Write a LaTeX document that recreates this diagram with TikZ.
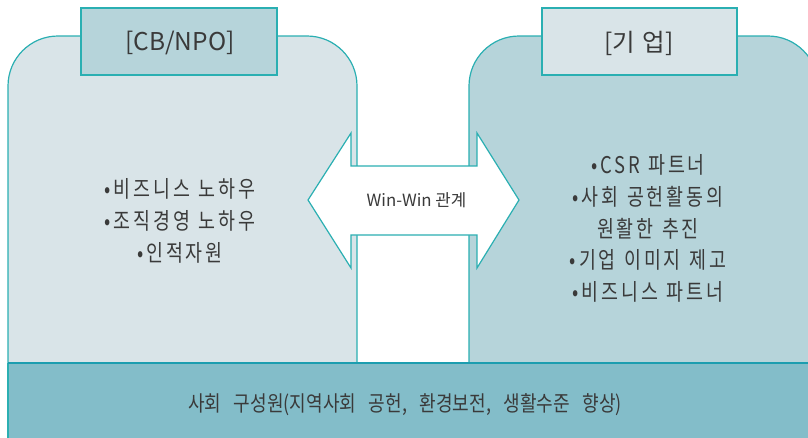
\documentclass[tikz,border=0pt]{standalone}
\usepackage{fontspec}
\setmainfont{Noto Sans CJK KR}
\newfontfamily\spaced[FakeStretch=0.8, LetterSpace=12.5]{Noto Sans CJK KR}
\newfontfamily\narrow[FakeStretch=0.84]{Noto Sans CJK KR}
\newcommand\bulletfont{\spaced\fontsize{23}{31.7}\selectfont\spaceskip 8.5pt\relax}
\newcommand\bandfont{\narrow\fontsize{21.5}{24}\selectfont\spaceskip 12.5pt\relax}
\definecolor{teal1}{HTML}{2AAFB2}
\definecolor{teal2}{HTML}{1C9DAF}
\definecolor{lpanel}{HTML}{D9E4E8}
\definecolor{rpanel}{HTML}{B6D4DA}
\definecolor{band}{HTML}{83BDC9}
\definecolor{txt}{HTML}{3A3A3A}
\tikzset{
  panel/.style={draw=teal1, line width=1.2pt, rounded corners=50pt},
  labelbox/.style={draw=teal1, line width=1.2pt},
  bullets/.style={text=txt, align=center, font=\bulletfont},
  title/.style={text=txt, font=\fontsize{24.5}{28}\selectfont},
}
\begin{document}
\begin{tikzpicture}[x=1pt,y=-1pt]
\useasboundingbox (0,0) rectangle (808,437);
\clip (0,0) rectangle (808,437);
% panels
\path[panel, fill=lpanel] (8,370) -- (8,36) -- (357,36) -- (357,370);
\path[panel, fill=rpanel] (469,370) -- (469,36) -- (818,36) -- (818,370);
% label boxes
\draw[labelbox, fill=rpanel] (81,8) rectangle (277,75);
\draw[labelbox, fill=lpanel] (542,8) rectangle (737,75);
\node[title] (cb) at (180,43) {[CB/NPO]};
\node[title] (ent) at (639,43) {[기\hspace{0.3em}업]};
% double arrow
\draw[draw=teal1, line width=1.2pt, fill=white, line join=miter]
  (308,200) -- (351,133) -- (351,166) -- (477,166) -- (477,133) -- (519,200)
  -- (477,268) -- (477,235) -- (351,235) -- (351,268) -- cycle;
\node[text=txt, font=\fontsize{16.8}{18}\selectfont] (win) at (416.5,200) {Win-Win 관계};
% bullet texts
\node[bullets] (left) at (180,221) {•비즈니스 노하우\\•조직경영 노하우\\•인적자원};
\node[bullets] (right) at (648,228.5) {•CSR 파트너\\•사회 공헌활동의\\원활한 추진\\•기업 이미지 제고\\•비즈니스 파트너};
% bottom band
\fill[band] (8,363) rectangle (830,445);
\draw[teal1, line width=1.2pt] (8,445) -- (8,363);
\draw[teal2, line width=1.6pt] (8,363) -- (830,363);
\node[text=txt, font=\bandfont] (society) at (405,405) {사회 구성원(지역사회 공헌, 환경보전, 생활수준 향상)};
\end{tikzpicture}
\end{document}
